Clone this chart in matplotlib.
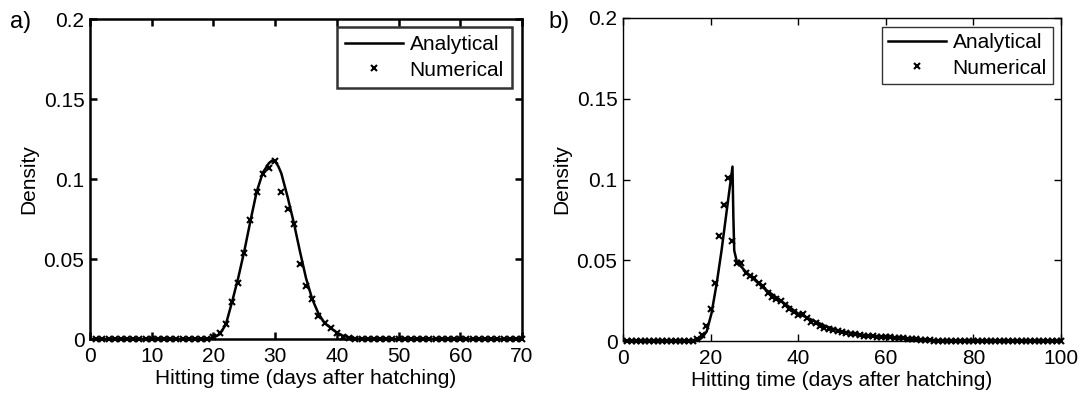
import numpy as np
import matplotlib.pyplot as plt

plt.rcParams['font.family'] = ['Liberation Sans', 'DejaVu Sans']

# panel a: analytical curve
a_curve_t = [0, 19, 20, 21, 22, 23, 24, 25, 26, 27, 28, 29, 29.5, 30, 30.5, 31, 32, 33,
             34, 35, 36, 37, 38, 39, 40, 41, 42, 43, 44, 70]
a_curve_y = [0, 0, 0.0008, 0.003, 0.009, 0.023, 0.038, 0.055, 0.074, 0.092, 0.104, 0.110,
             0.1115, 0.111, 0.108, 0.1035, 0.089, 0.073, 0.055, 0.038, 0.025, 0.016,
             0.010, 0.0069, 0.004, 0.002, 0.001, 0.0005, 0, 0]

# panel a: numerical points at days 1..70
a_num_t = list(range(1, 71))
a_num_y = ([0] * 19 +
           [0.001, 0.004, 0.0094, 0.0233, 0.0348, 0.054, 0.0744, 0.0917, 0.103, 0.107,
            0.111, 0.0917, 0.081, 0.072, 0.0467, 0.0331, 0.0248, 0.0146, 0.0098, 0.0071,
            0.004, 0.0015, 0.0005] +
           [0] * 28)

# panel b: analytical curve
b_curve_t = [0, 17, 18, 19.1, 20.2, 21.4, 22.5, 23.7, 24.4, 25.0, 25.2, 25.4, 26, 27,
             28, 30, 32, 34, 36, 38, 40, 42, 44, 46, 48, 50, 53, 56, 60, 64, 68, 72,
             76, 80, 100]
b_curve_y = [0, 0, 0.002, 0.0058, 0.017, 0.0357, 0.056, 0.081, 0.0955, 0.108, 0.077,
             0.056, 0.049, 0.046, 0.043, 0.038, 0.033, 0.029, 0.025, 0.021, 0.017,
             0.0145, 0.012, 0.0095, 0.0075, 0.006, 0.0045, 0.0033, 0.0022, 0.0014,
             0.0008, 0.0004, 0.0002, 0, 0]

# panel b: numerical points at days 1..100
b_num_t = list(range(1, 101))
b_num_y = ([0] * 16 +
           [0.001, 0.004, 0.009, 0.020, 0.036, 0.065, 0.084, 0.101, 0.062, 0.048,
            0.048, 0.042, 0.040, 0.039, 0.036, 0.034, 0.030, 0.027, 0.026, 0.025,
            0.022, 0.020, 0.018, 0.016, 0.017, 0.014, 0.012, 0.011, 0.009, 0.008,
            0.0075, 0.0068, 0.006, 0.0055, 0.005, 0.0045, 0.0041, 0.0036, 0.0031,
            0.003, 0.0028, 0.0027, 0.0025, 0.0024, 0.0022, 0.002, 0.0019, 0.0016,
            0.0014, 0.0012, 0.001, 0.0008, 0.0006, 0.0005, 0.0003, 0.0002, 0.0001] +
           [0] * 27)

a_xticks = [0, 10, 20, 30, 40, 50, 60, 70]
b_xticks = [0, 20, 40, 60, 80, 100]
yticks = [0, 0.05, 0.1, 0.15, 0.2]
ytick_labels = ['0', '0.05', '0.1', '0.15', '0.2']

fig = plt.figure(figsize=(10.81, 3.93), dpi=100)
ax_a = fig.add_axes([0.0833, 0.1374, 0.3996, 0.8142])
ax_b = fig.add_axes([0.5763, 0.1323, 0.4052, 0.8219])

panels = [
    (ax_a, a_curve_t, a_curve_y, a_num_t, a_num_y, 70, a_xticks, 1.8, (0.977, 0.975), 0.4),
    (ax_b, b_curve_t, b_curve_y, b_num_t, b_num_y, 100, b_xticks, 1.0, (0.982, 0.972), 0.3),
]

fs = 15
for ax, ct, cy, nt, ny, xmax, xt, spw, anchor, bpad in panels:
    ax.plot(ct, cy, color='black', lw=1.8, label='Analytical', zorder=3)
    ax.plot(nt, ny, linestyle='none', marker='x', color='black', ms=4.5, mew=1.5,
            label='Numerical', zorder=4, clip_on=False)
    ax.set_xlim(0, xmax)
    ax.set_ylim(0, 0.2)
    ax.set_xticks(xt)
    ax.set_yticks(yticks)
    ax.set_yticklabels(ytick_labels)
    ax.tick_params(direction='in', top=True, right=True, length=5, width=spw,
                   labelsize=fs)
    ax.tick_params(axis='x', pad=6)
    ax.tick_params(axis='y', pad=4)
    for sp in ax.spines.values():
        sp.set_linewidth(spw)
    ax.set_xlabel('Hitting time (days after hatching)', fontsize=fs, labelpad=2)
    ax.set_ylabel('Density', fontsize=fs, labelpad=4)
    leg = ax.legend(loc='upper right', bbox_to_anchor=anchor, fontsize=fs,
                    handlelength=2.8, fancybox=False, edgecolor='black',
                    borderpad=bpad, labelspacing=0.3, handletextpad=0.3,
                    borderaxespad=0)
    leg.get_frame().set_linewidth(spw)

fig.text(0.009, 0.945, 'a)', fontsize=17, va='center')
fig.text(0.507, 0.945, 'b)', fontsize=17, va='center')

fig.savefig('out.png', dpi=100)
